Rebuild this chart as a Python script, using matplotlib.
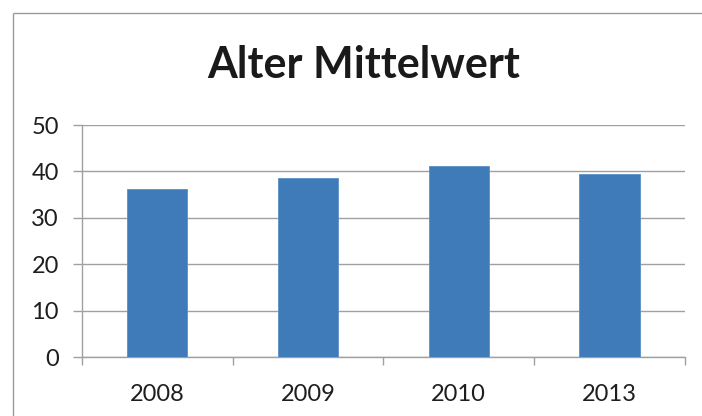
import matplotlib
matplotlib.use("Agg")
import matplotlib.pyplot as plt
import numpy as np
from matplotlib.lines import Line2D

plt.rcParams["font.family"] = ["Lato", "DejaVu Sans"]

years = ["2008", "2009", "2010", "2013"]
mean_age = [36.3, 38.6, 41.2, 39.4]
y_ticks = [0, 10, 20, 30, 40, 50]

BAR = "#3F7BB9"
GRID = "#A0A0A0"

fig = plt.figure(figsize=(7.02, 4.16), dpi=100)
fig.patch.set_facecolor("white")

# chart-area frame: only the top and left edges fall inside the image
fx = 12.5 / 702
fy = (416 - 12.5) / 416
fig.add_artist(Line2D([fx, fx], [0, fy], transform=fig.transFigure, color="#9A9A9A",
                      linewidth=1.0, solid_capstyle="butt"))
fig.add_artist(Line2D([fx, 1.05], [fy, fy], transform=fig.transFigure, color="#9A9A9A",
                      linewidth=1.0, solid_capstyle="butt"))

ax = fig.add_axes([81.7 / 702, 58.7 / 416, (685 - 81.7) / 702, (357.3 - 125) / 416])
x = np.arange(len(years))
ax.bar(x, mean_age, width=0.4, color=BAR, edgecolor="#5B8FC6", linewidth=0.6, zorder=3)

ax.set_xlim(-0.5, len(years) - 0.5)
ax.set_ylim(0, 50)
ax.set_yticks(y_ticks)
ax.yaxis.grid(True, color=GRID, linewidth=1.0, zorder=0)
ax.set_axisbelow(True)

for s in ["top", "right"]:
    ax.spines[s].set_visible(False)
for s in ["left", "bottom"]:
    ax.spines[s].set_color(GRID)
    ax.spines[s].set_linewidth(1.0)

ax.set_xticks(x)
ax.set_xticklabels(years)
ax.set_xticks(np.arange(-0.5, len(years)), minor=True)
ax.tick_params(axis="x", which="major", length=0, pad=19, labelsize=17, labelcolor="#1E1E1E")
ax.tick_params(axis="x", which="minor", length=6, width=1.0, color=GRID, direction="out")
ax.tick_params(axis="y", length=6.5, width=1.0, color=GRID, pad=10, labelsize=17, labelcolor="#1E1E1E")

fig.text(363.5 / 702, (416 - 78.3) / 416, "Alter Mittelwert", ha="center", va="baseline",
         fontsize=31, fontweight="bold", color="#1A1A1A")

fig.savefig("out.png", dpi=100)
